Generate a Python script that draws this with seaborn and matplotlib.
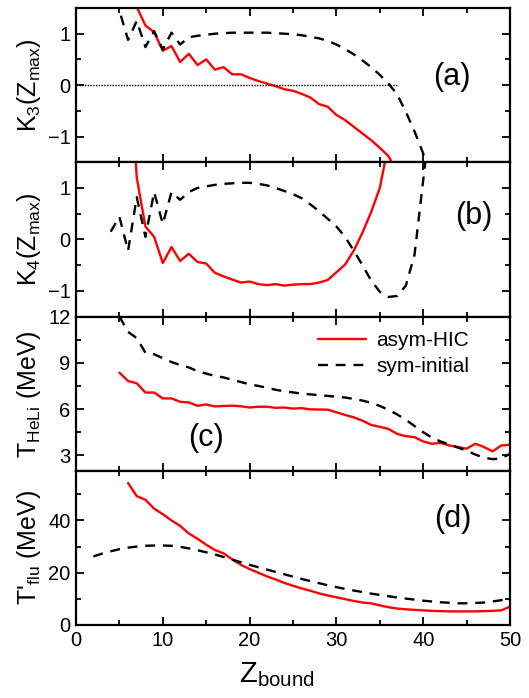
import numpy as np
import pandas as pd
import matplotlib
matplotlib.use("Agg")
import matplotlib.pyplot as plt
import seaborn as sns
from matplotlib.ticker import MultipleLocator

# ---------------- data ----------------
# panel (a) K3(Zmax)
x_k3_asym = list(range(6, 38))
k3_asym = [2.5, 1.52, 1.16, 1.03, 0.67, 0.76, 0.45, 0.61, 0.39, 0.50, 0.30, 0.35,
           0.21, 0.21, 0.14, 0.08, 0.03, -0.02, -0.08, -0.11, -0.17, -0.24, -0.37,
           -0.42, -0.58, -0.68, -0.81, -0.94, -1.07, -1.22, -1.38, -1.70]
x_k3_sym = list(range(4, 42))
k3_sym = [1.9, 1.45, 0.88, 1.25, 0.74, 1.05, 0.69, 1.02, 0.79, 0.93, 0.96, 0.98,
          1.0, 1.01, 1.02, 1.02, 1.02, 1.02, 1.02, 1.01, 1.0, 0.99, 0.97, 0.94,
          0.91, 0.86, 0.79, 0.70, 0.60, 0.48, 0.35, 0.20, 0.03, -0.18, -0.52,
          -0.90, -1.33, -2.0]

# panel (b) K4(Zmax)
x_k4_asym = list(range(6, 38))
k4_asym = [4.0, 1.2, 0.25, 0.05, -0.46, -0.15, -0.42, -0.28, -0.44, -0.47, -0.65,
           -0.72, -0.78, -0.84, -0.82, -0.87, -0.89, -0.87, -0.90, -0.88, -0.87,
           -0.87, -0.84, -0.79, -0.64, -0.49, -0.22, 0.13, 0.53, 1.0, 1.85, 3.0]
x_k4_sym = list(range(4, 42))
k4_sym = [0.15, 0.44, -0.22, 0.82, 0.05, 0.92, 0.30, 0.92, 0.77, 0.92, 1.0, 1.03,
          1.06, 1.08, 1.09, 1.10, 1.10, 1.08, 1.05, 1.0, 0.94, 0.88, 0.80, 0.68,
          0.55, 0.40, 0.25, 0.05, -0.22, -0.50, -0.80, -1.02, -1.12, -1.10, -0.90,
          -0.30, 1.15, 2.6]

# panel (c) T_HeLi (MeV)
x_t_asym = list(range(5, 51))
t_asym = [8.36, 7.82, 7.67, 7.07, 7.07, 6.69, 6.69, 6.47, 6.43, 6.21, 6.30, 6.17,
          6.20, 6.22, 6.18, 6.10, 6.15, 6.15, 6.08, 6.10, 6.03, 6.06, 5.98, 5.97,
          5.96, 5.79, 5.62, 5.46, 5.25, 4.97, 4.85, 4.71, 4.39, 4.24, 4.18, 3.90,
          3.75, 3.81, 3.64, 3.54, 3.43, 3.75, 3.54, 3.26, 3.64, 3.69]
x_t_sym = list(range(5, 51))
t_sym = [12.0, 11.0, 10.6, 9.65, 9.55, 9.3, 9.05, 8.85, 8.7, 8.45, 8.3, 8.15, 8.05,
         7.9, 7.75, 7.6, 7.5, 7.38, 7.25, 7.15, 7.08, 7.0, 6.95, 6.9, 6.85, 6.8,
         6.75, 6.65, 6.55, 6.4, 6.2, 5.95, 5.65, 5.3, 4.9, 4.5, 4.15, 3.9, 3.7,
         3.5, 3.3, 3.05, 2.85, 2.75, 2.8, 3.1]

# panel (d) T'_flu (MeV)
x_f_asym = list(range(6, 51))
f_asym = [54.3, 49.3, 47.9, 44.5, 42.4, 40.0, 37.9, 35.0, 33.0, 30.7, 28.7, 27.4,
          25.1, 23.0, 21.4, 20.0, 18.6, 17.4, 16.1, 15.0, 14.0, 13.1, 12.1, 11.3,
          10.6, 9.9, 9.2, 8.6, 8.3, 7.5, 6.8, 6.3, 6.0, 5.8, 5.6, 5.4, 5.3, 5.2,
          5.2, 5.2, 5.2, 5.3, 5.4, 5.6, 7.0]
x_f_sym = list(range(2, 51))
f_sym = [26.2, 27.3, 28.2, 29.0, 29.6, 30.0, 30.3, 30.4, 30.4, 30.3, 29.9, 29.3,
         28.6, 27.8, 27.0, 26.0, 25.0, 24.0, 23.0, 22.1, 21.2, 20.3, 19.4, 18.5,
         17.6, 16.8, 16.0, 15.2, 14.5, 13.8, 13.2, 12.6, 12.0, 11.5, 11.0, 10.5,
         10.1, 9.7, 9.3, 9.0, 8.7, 8.5, 8.3, 8.3, 8.4, 8.6, 9.0, 9.5, 10.2]

labels = ["asym-HIC", "sym-initial"]
panel_tags = ["(a)", "(b)", "(c)", "(d)"]
ylabels = [r"$\mathregular{K_3(Z_{max})}$", r"$\mathregular{K_4(Z_{max})}$",
           r"$\mathregular{T_{HeLi}}$ (MeV)", r"T'$\mathregular{_{flu}}$ (MeV)"]

# ---------------- style ----------------
sns.set_theme(style="white")
plt.rcParams["font.family"] = ["Liberation Sans", "DejaVu Sans"]
plt.rcParams["mathtext.fontset"] = "custom"
plt.rcParams["mathtext.rm"] = "Liberation Sans"
plt.rcParams["mathtext.it"] = "Liberation Sans:italic"
plt.rcParams["mathtext.bf"] = "Liberation Sans:bold"
plt.rcParams["text.color"] = "black"
plt.rcParams["axes.labelcolor"] = "black"
plt.rcParams["xtick.color"] = "black"
plt.rcParams["ytick.color"] = "black"

fig = plt.figure(figsize=(5.29, 6.98), dpi=100)
gs = fig.add_gridspec(4, 1, left=76/529, right=510/529, top=1-8/698,
                      bottom=1-625/698, hspace=0)
axes = [fig.add_subplot(gs[i]) for i in range(4)]

series = [
    (x_k3_asym, k3_asym, x_k3_sym, k3_sym),
    (x_k4_asym, k4_asym, x_k4_sym, k4_sym),
    (x_t_asym, t_asym, x_t_sym, t_sym),
    (x_f_asym, f_asym, x_f_sym, f_sym),
]
ylims = [(-1.5, 1.5), (-1.5, 1.5), (2, 12), (0, 59)]
ymaj = [1, 1, 3, 20]
ymin_ = [0.5, 0.5, 1.5, 10]
tag_pos = [(0.866, 0.55), (0.917, 0.65), (0.30, 0.21), (0.869, 0.69)]

red = "#ff0000"
for i, ax in enumerate(axes):
    xa, ya, xs, ys = series[i]
    da = pd.DataFrame({"Z": xa, "v": ya})
    ds = pd.DataFrame({"Z": xs, "v": ys})
    sns.lineplot(data=da, x="Z", y="v", ax=ax, color=red, lw=1.7,
                 label=labels[0], legend=False)
    sns.lineplot(data=ds, x="Z", y="v", ax=ax, color="black", lw=1.7,
                 dashes=False, label=labels[1], legend=False)
    ax.lines[-1].set_dashes((4.2, 3.3))
    if i == 0:
        ax.plot([0, 37], [0, 0], color="black", lw=1.0, ls=(0, (1, 1)))
    ax.set_xlim(0, 50)
    ax.set_ylim(*ylims[i])
    ax.xaxis.set_major_locator(MultipleLocator(10))
    ax.xaxis.set_minor_locator(MultipleLocator(5))
    ax.yaxis.set_major_locator(MultipleLocator(ymaj[i]))
    ax.yaxis.set_minor_locator(MultipleLocator(ymin_[i]))
    ax.tick_params(which="both", direction="in", top=True, right=True,
                   bottom=True, left=True, width=1.3, labelsize=14.5,
                   color="black", labelcolor="black")
    ax.tick_params(which="major", length=6, pad=4)
    ax.tick_params(which="minor", length=3.5)
    for s in ax.spines.values():
        s.set_linewidth(1.6)
        s.set_color("black")
    ax.set_ylabel(ylabels[i], fontsize=18)
    ax.yaxis.set_label_coords(-0.075, 0.5)
    ax.set_xlabel("")
    if i < 3:
        ax.tick_params(labelbottom=False)
    ax.text(tag_pos[i][0], tag_pos[i][1], panel_tags[i], transform=ax.transAxes,
            ha="center", va="center", fontsize=22)

axes[2].legend(loc="upper right", bbox_to_anchor=(0.94, 1.0), frameon=False,
               fontsize=15, handlelength=2.3, handletextpad=0.5,
               borderaxespad=0.3, labelspacing=0.35)
axes[3].set_xlabel(r"$\mathregular{Z_{bound}}$", fontsize=21)
axes[3].xaxis.set_label_coords(0.462, -0.225)
axes[3].xaxis.label.set_va("top")

fig.savefig("out.png", dpi=100)
